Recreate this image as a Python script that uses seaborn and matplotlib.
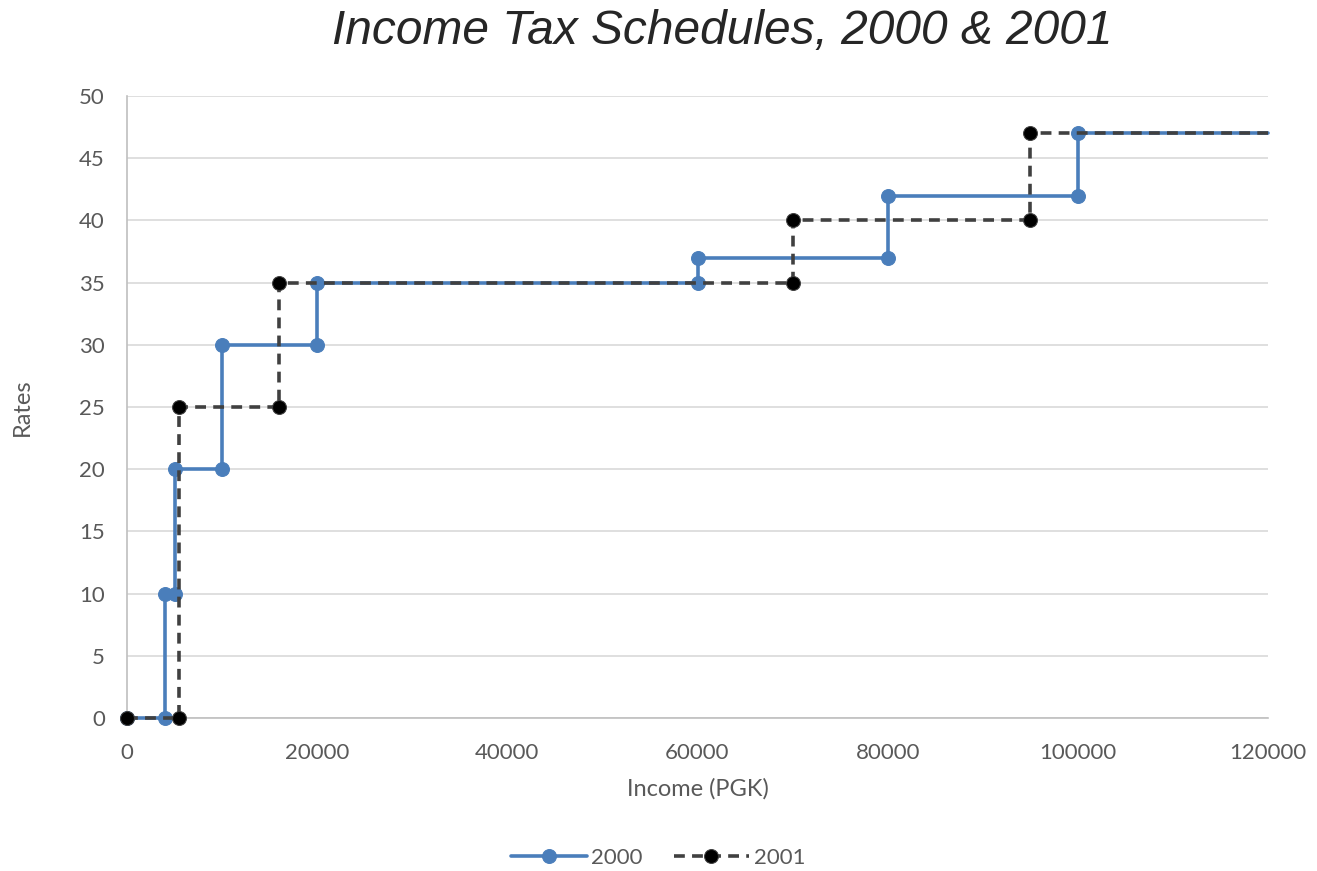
import matplotlib
matplotlib.use("Agg")
import matplotlib.pyplot as plt
import seaborn as sns
import pandas as pd

# Step schedules: each bracket boundary appears twice (old rate, new rate)
income_2000 = [0, 4000, 4000, 5000, 5000, 10000, 10000, 20000, 20000,
               60000, 60000, 80000, 80000, 100000, 100000, 120000]
rates_2000 = [0, 0, 10, 10, 20, 20, 30, 30, 35, 35, 37, 37, 42, 42, 47, 47]

income_2001 = [0, 5500, 5500, 16000, 16000, 70000, 70000, 95000, 95000, 120000]
rates_2001 = [0, 0, 25, 25, 35, 35, 40, 40, 47, 47]

x_ticks = [0, 20000, 40000, 60000, 80000, 100000, 120000]
y_ticks = [0, 5, 10, 15, 20, 25, 30, 35, 40, 45, 50]

df_2000 = pd.DataFrame({"income": income_2000, "rate": rates_2000})
df_2001 = pd.DataFrame({"income": income_2001, "rate": rates_2001})

sns.set_theme(style="white")
plt.rcParams["font.family"] = ["Lato", "DejaVu Sans"]

fig = plt.figure(figsize=(13.17, 8.71), dpi=100)
ax = fig.add_axes([127 / 1317, 1 - 718 / 871, (1268 - 127) / 1317, (718 - 96) / 871])

blue = "#4a7ebb"
dark = "#404040"

sns.lineplot(data=df_2000, x="income", y="rate", ax=ax, sort=False, estimator=None,
             color=blue, linewidth=2.6, marker="o", markersize=10,
             markeredgecolor=blue, markevery=list(range(len(income_2000) - 1)),
             label="2000", zorder=3, clip_on=False)
sns.lineplot(data=df_2001, x="income", y="rate", ax=ax, sort=False, estimator=None,
             color=dark, linewidth=2.6, linestyle=(0, (3, 2)), marker="o", markersize=10,
             markerfacecolor="black", markeredgecolor=dark,
             markevery=list(range(len(income_2001) - 1)),
             label="2001", zorder=4, clip_on=False)

ax.set_xlim(0, 120000)
ax.set_ylim(0, 50)
ax.set_xticks(x_ticks)
ax.set_yticks(y_ticks)
ax.set_xticklabels([str(v) for v in x_ticks])
ax.set_yticklabels([str(v) for v in y_ticks])
ax.tick_params(axis="x", labelsize=16, colors="#595959", length=0, pad=18)
ax.tick_params(axis="y", labelsize=16, colors="#595959", length=0, pad=16)
ax.yaxis.grid(True, color="#d9d9d9", linewidth=1.2)
ax.xaxis.grid(False)
for s in ["top", "right"]:
    ax.spines[s].set_visible(False)
for s in ["left", "bottom"]:
    ax.spines[s].set_color("#bfbfbf")
    ax.spines[s].set_linewidth(1.2)

ax.set_xlabel("Income (PGK)", fontsize=17, color="#595959", labelpad=11)
ax.set_ylabel("Rates", fontsize=17, color="#595959", labelpad=33)

fig.suptitle("Income Tax Schedules, 2000 & 2001", x=722 / 1317, y=1 - 31 / 871,
             fontsize=34.5, style="italic", family=["Liberation Sans", "DejaVu Sans"],
             va="center")

leg = ax.legend(loc="center", bbox_to_anchor=(658 / 1317, 1 - 858 / 871),
                bbox_transform=fig.transFigure, ncol=2, frameon=False,
                fontsize=16, handlelength=3.4, columnspacing=1.4, handletextpad=0.2)
for t in leg.get_texts():
    t.set_color("#595959")

fig.savefig("out.png", dpi=100)
